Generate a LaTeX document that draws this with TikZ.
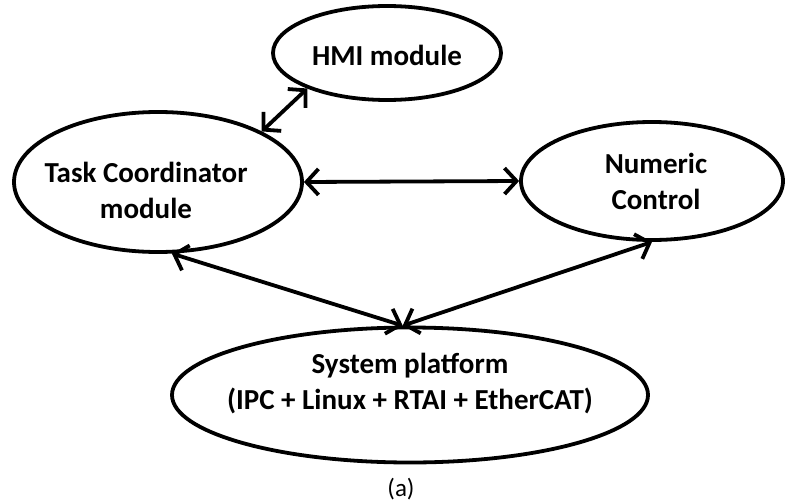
\documentclass[tikz,border=0pt]{standalone}
\usepackage{fontspec}
\setmainfont{Carlito}
\usetikzlibrary{shapes.geometric,arrows.meta}

\tikzset{
  blob/.style={draw, ellipse, line width=3.8pt, inner sep=0pt},
  lbl/.style={font=\bfseries\fontsize{29}{36}\selectfont, align=center, inner sep=0pt},
  barb/.tip={Straight Barb[length=12pt,width=26pt]},
  link/.style={line width=3.8pt, barb-barb},
}

\begin{document}
\begin{tikzpicture}[x=1pt, y=-1pt]
  \useasboundingbox (0,0) rectangle (786,503);

  % module ellipses
  \node[blob, minimum width=228pt, minimum height=94pt]  (hmi)  at (387,53)  {};
  \node[blob, minimum width=288pt, minimum height=140pt] (task) at (158,182) {};
  \node[blob, minimum width=262pt, minimum height=118pt] (nc)   at (652,181) {};
  \node[blob, minimum width=476pt, minimum height=135pt] (sys)  at (410,395) {};

  % ellipse labels
  \node[lbl] (hmitext)  at (387,55)  {HMI module};
  \node[lbl] (tasktext) at (146,190) {Task Coordinator\\module};
  \node[lbl] (nctext)   at (656,181) {Numeric\\Control};
  \node[lbl] (systext)  at (410,384) {System platform\\(IPC + Linux + RTAI + EtherCAT)};

  % caption
  \node[font=\fontsize{25}{30}\selectfont, inner sep=0pt] (cap) at (401,489) {(a)};

  % connectors
  \coordinate (systop) at (sys.96);
  \draw[link] (task.26)  -- (hmi.204);
  \draw[link] (task.east) -- (nc.west);
  \draw[link] (task.281) -- (systop);
  \draw[link] (nc.270)   -- (systop);
\end{tikzpicture}
\end{document}
